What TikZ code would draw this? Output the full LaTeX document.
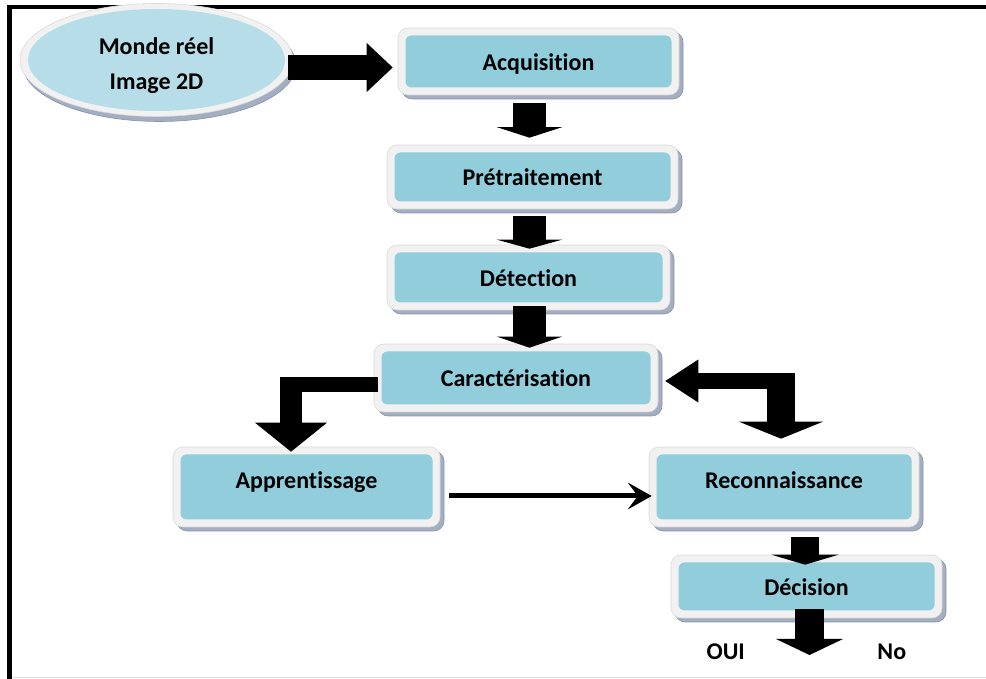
\documentclass[tikz,border=0pt]{standalone}
\usepackage{fontspec}
\setmainfont{Carlito}[Ligatures={NoCommon}]
\usetikzlibrary{arrows.meta,shadows,shapes.geometric}

\definecolor{boxblue}{HTML}{92CDDC}
\definecolor{ellblue}{HTML}{B7DEE8}
\definecolor{ringgray}{HTML}{F1F1F1}
\definecolor{ringedge}{HTML}{DADADA}
\definecolor{shadowblue}{HTML}{A3AEC0}
\definecolor{shadowedge}{HTML}{8794AA}

\tikzset{
  labelfont/.style={font=\bfseries\fontsize{24}{28}\selectfont},
  stepbox/.style={rectangle, rounded corners=10pt, fill=ringgray, draw=ringedge,
    line width=0.6pt, inner sep=0pt, labelfont, text height=17.5pt, text depth=0pt,
    drop shadow={shadow xshift=4pt, shadow yshift=-4pt, fill=shadowblue,
      draw=shadowedge, opacity=1},
    path picture={\fill[boxblue, rounded corners=6pt]
      ([shift={(7.5pt,-7.5pt)}]path picture bounding box.north west) rectangle
      ([shift={(-7.5pt,7.5pt)}]path picture bounding box.south east);}},
  worldbox/.style={ellipse, fill=ringgray, draw=ringedge, line width=0.6pt,
    inner sep=0pt, align=center, text height=66pt, text depth=6pt,
    font=\bfseries\fontsize{24}{35}\selectfont,
    drop shadow={shadow xshift=3pt, shadow yshift=-5pt, fill=shadowblue,
      draw=shadowedge, opacity=1},
    path picture={\fill[ellblue] (path picture bounding box.center)
      ellipse [x radius=128.5pt, y radius=51pt];}},
  outtext/.style={labelfont, inner sep=0pt, text height=15pt, text depth=0pt},
  % block arrow: shaft width, head width, head length
  blockarrow/.style n args={3}{draw=black, line width=#1,
    -{Triangle[width=#2 0 0, length=#3 0 0, line width=0pt 0 0]}},
  thinarrow/.style={draw=black, line width=5pt,
    -{Stealth[length=24pt 0 0, width=27pt 0 0, inset=10pt 0 0, line width=0pt 0 0]}},
}

\begin{document}
\begin{tikzpicture}[x=1pt, y=1pt]
  \useasboundingbox (0,0) rectangle (986,679);

  % page frame
  \draw[line width=4.5pt, line join=miter] (9.65,0) -- (9.65,671.85) -- (986,671.85);
  \draw[black!12, line width=1pt] (12,1.5) -- (986,1.5);

  % processing steps
  \node[worldbox, minimum width=273pt, minimum height=113pt] (world) at (156.5,619)
    {Monde réel\\Image 2D};
  \node[stepbox, minimum width=281pt, minimum height=67pt] (acq) at (538.5,617.5) {Acquisition};
  \node[stepbox, minimum width=291pt, minimum height=64pt] (pre) at (532.5,502) {Prétraitement};
  \node[stepbox, minimum width=283pt, minimum height=65pt] (det) at (528.5,401.5) {Détection};
  \node[stepbox, minimum width=284pt, minimum height=68pt] (car) at (516,301) {Caractérisation};
  \node[stepbox, minimum width=267pt, minimum height=80pt, text depth=15pt] (app) at (306.5,192) {Apprentissage};
  \node[stepbox, minimum width=270pt, minimum height=80pt, text depth=15pt] (rec) at (784,192) {Reconnaissance};
  \node[stepbox, minimum width=271pt, minimum height=63pt] (dec) at (806.5,92.5) {Décision};

  % outcome labels
  \node[outtext] (oui) at (725.7,27) {OUI};
  \node[outtext] (non) at (891.8,27) {No};

  % bends and free ends of the block arrows
  \coordinate (lbend) at (280,294.5);
  \coordinate (lbendtop) at (291,302);
  \coordinate (rbend) at (795,298);
  \coordinate (rbendtop) at (781,306);
  \coordinate (decout) at (809.5,24);

  % main chain
  \draw[blockarrow={25pt}{49pt}{26pt}] ([shift={(-5,-7.5)}]world.east) -- ([shift={(-5,-6)}]acq.west);
  \draw[blockarrow={33pt}{65pt}{10.5pt}] ([shift={(-9,-8)}]acq.south) -- ([shift={(-3,7)}]pre.north);
  \draw[blockarrow={33pt}{65pt}{9pt}] ([shift={(-3,-7)}]pre.south) -- ([shift={(1,-4)}]det.north);
  \draw[blockarrow={33pt}{65pt}{11pt}] ([shift={(1,4)}]det.south) -- ([shift={(13.5,-4)}]car.north);

  % caractérisation to apprentissage
  \draw[line width=15.6pt] ([shift={(4,-6.5)}]car.west) -- (lbend);
  \draw[blockarrow={21.7pt}{72pt}{29pt}] (lbendtop) -- ([shift={(-15.5,-5)}]app.north);

  % link between caractérisation and reconnaissance
  \draw[blockarrow={16pt}{43pt}{33pt}] (rbend) -- ([shift={(7,-3)}]car.east);
  \draw[blockarrow={28pt}{84pt}{17pt}] (rbendtop) -- ([shift={(-3,8)}]rec.north);

  % apprentissage to reconnaissance
  \draw[thinarrow] ([shift={(9,-9)}]app.east) -- ([shift={(3,-9)}]rec.west);

  % reconnaissance to décision, then outcome
  \draw[blockarrow={28pt}{67pt}{10pt}] ([shift={(21,-10)}]rec.south) -- ([shift={(-1.5,-10)}]dec.north);
  \draw[blockarrow={29pt}{67pt}{16pt}] ([shift={(3,9)}]dec.south) -- (decout);
\end{tikzpicture}
\end{document}
